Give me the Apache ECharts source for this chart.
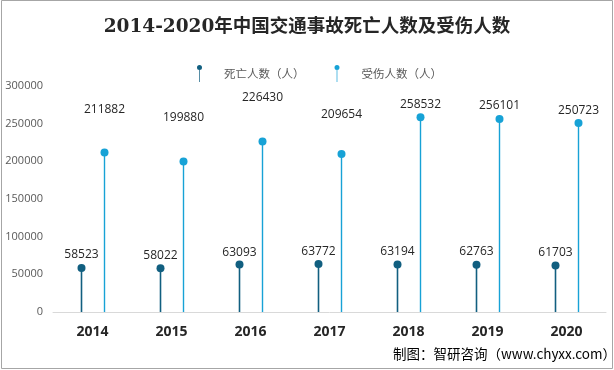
<!DOCTYPE html>
<html><head><meta charset="utf-8">
<script src="https://cdn.jsdelivr.net/npm/echarts@6/dist/echarts.min.js"></script>
<style>html,body{margin:0;padding:0;background:#fff}#c{width:614px;height:370px}</style>
</head><body><div id="c"></div>
<script>
const years = ['2014','2015','2016','2017','2018','2019','2020'];
const deaths = [58523,58022,63093,63772,63194,62763,61703];
const injured = [211882,199880,226430,209654,258532,256101,250723];
const yTicks = {min:0, max:300000, interval:50000};
const deathName = '死亡人数（人）';
const injuredName = '受伤人数（人）';
// label distance above the dot (px) — styling only
const deathLabelGap = [13,13,12,12,13,13,13];
const injuredLabelGap = [43,44,44,39,13,13,13];

const chart = echarts.init(document.getElementById('c'), null, {renderer:'canvas'});
const DEATH = '#115f80', INJ = '#17a2d6';
function lolli(offset, color, lineW, gaps){
  return function(params, api){
    const i = api.value(0), v = api.value(1);
    const top = api.coord([i, v]);
    const base = api.coord([i, 0]);
    const x = Math.round(top[0] + offset) + 0.5;
    return {type:'group', children:[
      {type:'line', shape:{x1:x,y1:base[1],x2:x,y2:top[1]}, style:{stroke:color,lineWidth:lineW}},
      {type:'circle', shape:{cx:x,cy:top[1],r:4}, style:{fill:color}},
      {type:'text', x:x, y:top[1]-gaps[params.dataIndex], style:{text:String(v), textAlign:'center', textVerticalAlign:'middle', fill:'#262626', font:'12px "Open Sans", sans-serif'}}
    ]};
  };
}
const icon = 'path://M5,0 A5,5 0 1,1 5,10 A5,5 0 1,1 5,0 Z M4.3,8 L5.7,8 L5.7,34 L4.3,34 Z';
chart.setOption({
  animation:false,
  title:{text:'2014-2020年中国交通事故死亡人数及受伤人数', left:'center', top:13,
    textStyle:{fontSize:18.5, fontWeight:'bold', color:'#262626', fontFamily:'"DejaVu Serif", "Noto Sans CJK SC", serif'}},
  legend:{top:60, left:192, itemGap:30, itemWidth:5, itemHeight:17,
    textStyle:{color:'#595959', fontSize:11.5, padding:[0,0,0,17], fontFamily:'"Noto Sans CJK SC", sans-serif'},
    data:[{name:deathName, icon:icon},{name:injuredName, icon:icon}]},
  grid:{left:53, right:8, top:86, bottom:58},
  xAxis:{type:'category', data:years, axisTick:{show:false},
    axisLine:{lineStyle:{color:'#d9d9d9'}},
    axisLabel:{color:'#262626', fontSize:14, fontWeight:'bold', margin:13, fontFamily:'"Open Sans", sans-serif'}},
  yAxis:{type:'value', min:yTicks.min, max:yTicks.max, interval:yTicks.interval,
    splitLine:{show:false}, axisLine:{show:false}, axisTick:{show:false},
    axisLabel:{color:'#595959', fontSize:11, margin:10, formatter:v=>String(v), fontFamily:'"Open Sans", sans-serif'}},
  graphic:[
    {type:'rect', shape:{x:1.5,y:0.5,width:611,height:368}, style:{fill:'none', stroke:'#a6a6a6', lineWidth:1}, silent:true},
    {type:'text', right:-2, bottom:9, style:{text:'制图：智研咨询（www.chyxx.com）', fill:'#000', font:'13.5px "Noto Sans CJK SC", sans-serif'}}
  ],
  series:[
    {name:deathName, type:'custom', itemStyle:{color:DEATH}, encode:{x:0,y:1},
      data:deaths.map((v,i)=>[i,v]), renderItem:lolli(-12, DEATH, 1.6, deathLabelGap)},
    {name:injuredName, type:'custom', itemStyle:{color:INJ}, encode:{x:0,y:1},
      data:injured.map((v,i)=>[i,v]), renderItem:lolli(11, INJ, 1.4, injuredLabelGap)}
  ]
});
</script></body></html>
